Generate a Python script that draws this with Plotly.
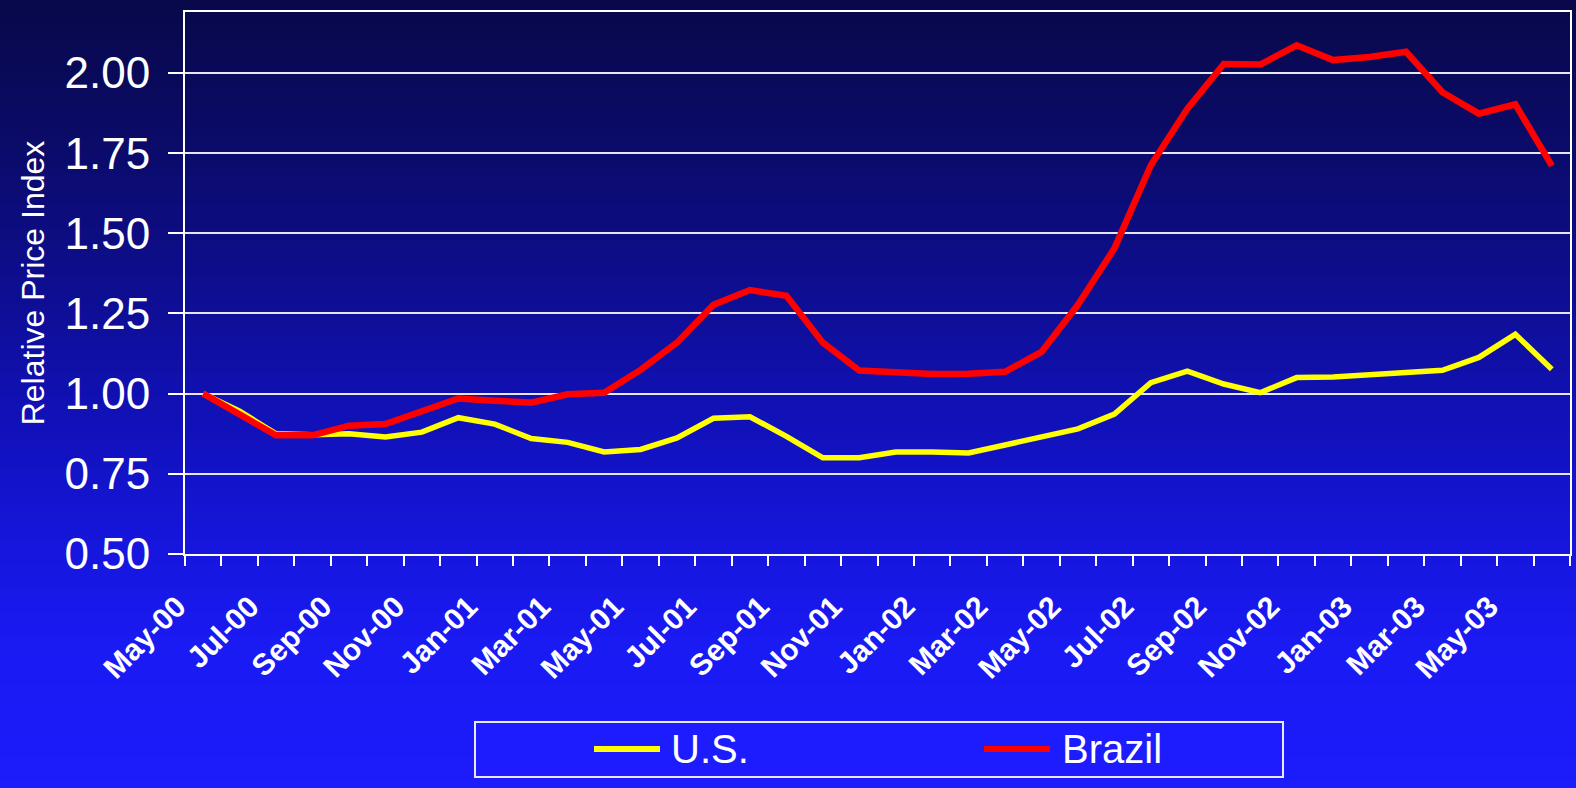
import plotly.graph_objects as go

# ---------------- data ----------------
months = ["May-00", "Jun-00", "Jul-00", "Aug-00", "Sep-00", "Oct-00", "Nov-00", "Dec-00",
          "Jan-01", "Feb-01", "Mar-01", "Apr-01", "May-01", "Jun-01", "Jul-01", "Aug-01",
          "Sep-01", "Oct-01", "Nov-01", "Dec-01", "Jan-02", "Feb-02", "Mar-02", "Apr-02",
          "May-02", "Jun-02", "Jul-02", "Aug-02", "Sep-02", "Oct-02", "Nov-02", "Dec-02",
          "Jan-03", "Feb-03", "Mar-03", "Apr-03", "May-03", "Jun-03"]

us = [1.000, 0.945, 0.875, 0.872, 0.875, 0.865, 0.880, 0.925,
      0.905, 0.860, 0.848, 0.818, 0.826, 0.862, 0.923, 0.928,
      0.867, 0.800, 0.800, 0.818, 0.818, 0.815, 0.840, 0.863,
      0.890, 0.936, 1.034, 1.070, 1.030, 1.003, 1.050, 1.052,
      1.060, 1.069, 1.073, 1.113, 1.185, 1.076]

brazil = [1.000, 0.934, 0.870, 0.870, 0.900, 0.905, 0.946, 0.985,
          0.978, 0.972, 0.998, 1.003, 1.074, 1.159, 1.277, 1.323,
          1.305, 1.159, 1.072, 1.067, 1.061, 1.062, 1.068, 1.130,
          1.277, 1.453, 1.712, 1.888, 2.028, 2.026, 2.086, 2.040,
          2.050, 2.066, 1.940, 1.873, 1.902, 1.711]

series_names = ["U.S.", "Brazil"]
series_colors = ["#ffff00", "#ff0000"]
y_ticks = [0.50, 0.75, 1.00, 1.25, 1.50, 1.75, 2.00]
x_tick_text = [m if i % 2 == 0 else "" for i, m in enumerate(months)]

# ---------------- geometry ----------------
W, H = 1576, 788
L, R, T, B = 185, 1570, 12, 554   # plot area in pixels


def px(X):
    return (X - L) / (R - L)


def py(Y):
    return (B - Y) / (B - T)


FONT = "Liberation Sans, Arial, Helvetica, sans-serif"

fig = go.Figure()
fig.add_trace(go.Scatter(x=months, y=us, mode="lines", name=series_names[0],
                         line=dict(color=series_colors[0], width=5.5), showlegend=False))
fig.add_trace(go.Scatter(x=months, y=brazil, mode="lines", name=series_names[1],
                         line=dict(color=series_colors[1], width=6.5), showlegend=False))

shapes = []
# background gradient bands
stops = [(0, (8, 8, 74)), (150, (11, 11, 106)), (300, (14, 14, 148)), (420, (17, 17, 185)),
         (550, (22, 22, 222)), (650, (26, 26, 244)), (788, (28, 28, 252))]


def col_at(Y):
    for (y0, c0), (y1, c1) in zip(stops[:-1], stops[1:]):
        if y0 <= Y <= y1:
            t = (Y - y0) / (y1 - y0)
            return "rgb(%d,%d,%d)" % tuple(round(a + (b - a) * t) for a, b in zip(c0, c1))
    return "rgb(%d,%d,%d)" % stops[-1][1]


step = 6
for Y0 in range(0, H, step):
    shapes.append(dict(type="rect", xref="paper", yref="paper", layer="below",
                       x0=px(0), x1=px(W), y0=py(Y0 + step + 0.5), y1=py(Y0),
                       fillcolor=col_at(Y0 + step / 2), line=dict(width=0)))

# legend box
shapes.append(dict(type="rect", xref="paper", yref="paper",
                   x0=px(475), x1=px(1283), y0=py(777), y1=py(722),
                   fillcolor="#1c1cff", line=dict(color="#e8e8ff", width=2)))
legend_items = [(594, 660, 669), (984, 1050, 1060)]
annotations = []
for (lx0, lx1, tx), name, color in zip(legend_items, series_names, series_colors):
    shapes.append(dict(type="line", xref="paper", yref="paper",
                       x0=px(lx0), x1=px(lx1), y0=py(749), y1=py(749),
                       line=dict(color=color, width=6)))
    annotations.append(dict(xref="paper", yref="paper", x=px(tx), y=py(749),
                            xanchor="left", yanchor="middle", showarrow=False,
                            text=name, font=dict(family=FONT, size=40, color="white")))

fig.update_layout(
    width=W, height=H,
    margin=dict(l=L, r=W - R, t=T, b=H - B, autoexpand=False),
    paper_bgcolor="rgb(28,28,252)",
    plot_bgcolor="rgba(0,0,0,0)",
    shapes=shapes,
    annotations=annotations,
    showlegend=False,
    xaxis=dict(
        type="category", range=[-0.5, len(months) - 0.5],
        tickmode="array", tickvals=months, ticktext=x_tick_text,
        tickson="boundaries", ticks="outside", ticklen=10, tickwidth=2, tickcolor="white",
        tickangle=-45, tickfont=dict(family=FONT, size=30, color="white", weight="bold"),
        ticklabelshift=-26, ticklabelstandoff=21,
        showgrid=False, showline=True, linecolor="white", linewidth=2, mirror=True,
        zeroline=False, automargin=False,
    ),
    yaxis=dict(
        range=[0.5, 2.19], tickmode="array", tickvals=y_ticks,
        ticktext=["%.2f" % v for v in y_ticks],
        ticks="outside", ticklen=15, tickwidth=2, tickcolor="white",
        tickfont=dict(family=FONT, size=44, color="white"),
        ticklabelstandoff=9,
        showgrid=True, gridcolor="#e6e6f0", gridwidth=2,
        showline=True, linecolor="white", linewidth=2, mirror=True,
        zeroline=False, automargin=False,
        title=dict(text="Relative Price Index", standoff=10,
                   font=dict(family=FONT, size=32, color="white")),
    ),
)

fig.write_html("out.html", config={"displayModeBar": False},
               post_script="document.body.style.margin='0';")
